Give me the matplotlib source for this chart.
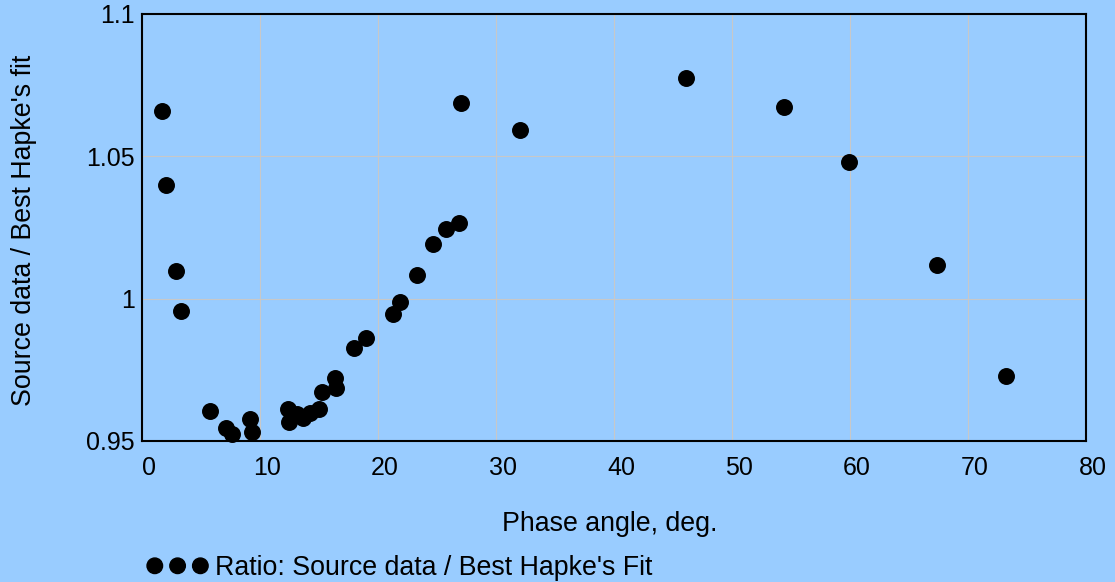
import matplotlib
matplotlib.use("Agg")
from matplotlib import pyplot as plt
from matplotlib.transforms import ScaledTranslation

# phase angle (deg) and ratio source / Hapke fit
phase = [1.7, 2.0, 2.9, 3.3, 5.8, 7.1, 7.6, 9.15, 9.3,
         12.4, 12.45, 13.1, 13.6, 14.2, 15.0, 15.25, 16.35, 16.45,
         18.0, 19.0, 21.3, 21.9, 23.3, 24.7, 25.8, 26.9, 27.0,
         32.0, 46.1, 54.4, 59.9, 67.4, 73.2]
ratio = [1.066, 1.040, 1.0097, 0.9956, 0.9605, 0.9545, 0.9524, 0.9577, 0.9531,
         0.9612, 0.9566, 0.9594, 0.958, 0.9598, 0.9612, 0.9672, 0.9721, 0.9686,
         0.9826, 0.9862, 0.9946, 0.9988, 1.0083, 1.0192, 1.0245, 1.0266, 1.0687,
         1.0592, 1.0775, 1.0673, 1.048, 1.0118, 0.9728]
xticks = [0, 10, 20, 30, 40, 50, 60, 70, 80]
yticks = [0.95, 1.0, 1.05, 1.1]
ytick_labels = ["0.95", "1", "1.05", "1.1"]

bg = "#99ccff"
tick_fs = 18
label_fs = 19.3
plt.rcParams['font.family'] = ['Liberation Sans', 'DejaVu Sans']

fig = plt.figure(figsize=(11.15, 5.82), dpi=100, facecolor=bg)
ax = fig.add_axes([0.1274, 0.2423, 0.9740 - 0.1274, 0.976 - 0.2423])
ax.set_facecolor(bg)

ax.scatter(phase, ratio, s=125, c='black', zorder=3, clip_on=False,
           label="Ratio: Source data / Best Hapke's Fit")

ax.set_xlim(0, 80)
ax.set_ylim(0.95, 1.1)
ax.set_xticks(xticks)
ax.set_yticks(yticks)
ax.set_yticklabels(ytick_labels)
ax.tick_params(length=0, labelsize=tick_fs)
ax.tick_params(axis='y', pad=5)
ax.tick_params(axis='x', pad=11)
# x labels sit a little right of the grid lines in the original
shift = ScaledTranslation(7 / 100, 0, fig.dpi_scale_trans)
for lab in ax.get_xticklabels():
    lab.set_transform(lab.get_transform() + shift)
ax.grid(True, color='#c8c8c8', linewidth=0.8)
ax.set_axisbelow(True)
for sp in ax.spines.values():
    sp.set_linewidth(1.5)
    sp.set_color('black')

ax.set_xlabel("Phase angle, deg.", fontsize=label_fs)
ax.xaxis.set_label_coords(0.4958, -0.165)
ax.set_ylabel("Source data / Best Hapke's fit", fontsize=label_fs)
ax.yaxis.set_label_coords(-0.111, 0.494)

fig.legend(loc='lower left', bbox_to_anchor=(0.122, -0.017), frameon=False,
           scatterpoints=3, scatteryoffsets=[0.5], fontsize=label_fs,
           handletextpad=0.25, borderaxespad=0, handlelength=2.3)

fig.savefig("out.png", dpi=100, facecolor=bg)
